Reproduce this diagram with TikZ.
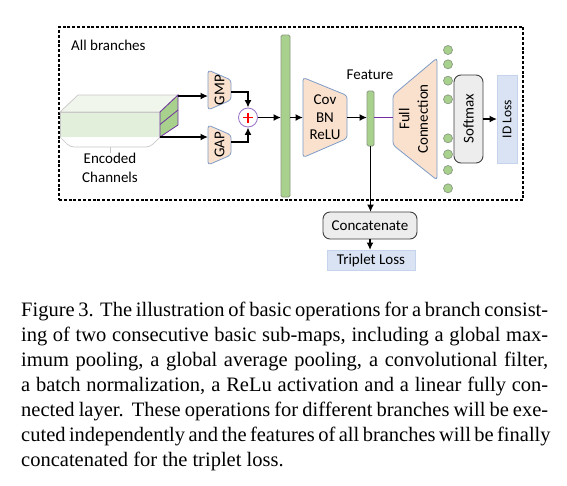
\documentclass[tikz,border=0pt]{standalone}
\usepackage{graphicx}
\usepackage{fontspec}
\setmainfont{Liberation Serif}
\newfontfamily\diagfont{Carlito}
\newfontfamily\capserif{Liberation Serif}
\usetikzlibrary{arrows.meta,calc,backgrounds}
\definecolor{orfill}{HTML}{F9E1CE}
\definecolor{trapline}{HTML}{7F9CC8}
\definecolor{gfill}{HTML}{A9D18E}
\definecolor{gline}{HTML}{8A9A82}
\definecolor{purp}{HTML}{7030A0}
\definecolor{circ}{HTML}{9A70C8}
\definecolor{lgray}{HTML}{EDEDED}
\definecolor{dgray}{HTML}{404040}
\definecolor{lblue}{HTML}{DAE3F3}
\definecolor{lbline}{HTML}{C5D3EC}
\definecolor{topg}{HTML}{F0F6EB}
\definecolor{frontg}{HTML}{E2EFDA}
\definecolor{blkline}{HTML}{C8C8C8}
\newcommand\capline[1]{{\capserif\fontsize{20.5}{25}\selectfont\makebox[527pt][s]{#1}}}
\begin{document}
\begin{tikzpicture}[x=1pt,y=-1pt,
  dtext/.style={font=\diagfont\fontsize{15}{17.5}\selectfont},
  arr/.style={line width=1.8pt, -{Latex[length=7.5pt,width=7pt]}},
  txt/.style={dtext, inner sep=0pt},
  box/.style={dtext, inner sep=0pt, outer sep=0pt},
  trap/.style={fill=orfill, draw=trapline, line width=0.8pt, rounded corners=3pt},
  greenbar/.style={box, fill=gfill, draw=gline, line width=0.8pt, rounded corners=1.5pt},
  dot/.style={circle, fill=gfill, draw=gline, line width=0.7pt, minimum size=9pt, inner sep=0pt},
  roundbox/.style={box, draw=dgray, fill=lgray, line width=0.9pt, rounded corners=7pt},
  lossbox/.style={box, fill=lblue, draw=lbline, line width=0.6pt},
  captext/.style={anchor=base west, inner sep=0pt}
  ]
\useasboundingbox (0,0) rectangle (567,485);

% frame
\node[box, draw, line width=1.5pt, dash pattern=on 3pt off 1.8pt, minimum width=464pt, minimum height=173pt] (frame) at (291,113.5) {};
\node[txt, anchor=west] (allb) at (71,45) {All branches};

% encoded block
\coordinate (bA) at (60,112);
\coordinate (bB) at (78,95);
\coordinate (bC) at (178,95);
\coordinate (bD) at (160,112);
\coordinate (bE) at (160,137);
\coordinate (bF) at (178,125);
\coordinate (bG) at (60,137);
\filldraw[fill=topg, draw=blkline, line width=0.7pt] (bA) -- (bB) -- (bC) -- (bD) -- cycle;
\filldraw[fill=frontg, draw=blkline, line width=0.7pt] (bA) rectangle (bE);
\filldraw[fill=white, draw=blkline, line width=0.7pt, rounded corners=4pt] (bG) -- (70,147) -- (150,147) -- (bE);
\filldraw[fill=gfill, draw=purp, line width=0.8pt] (bD) -- (bC) -- (bF) -- (bE) -- cycle;
\draw[purp, line width=0.8pt] (160,124.5) -- (178,110);
\node[txt, align=center, font=\diagfont\fontsize{15}{19}\selectfont] (enc) at (110,168) {Encoded\\Channels};
\coordinate (btick) at (110,147);
\draw[blkline, line width=0.8pt] (btick) -- (btick |- enc.north);

% pooling
\node[box, minimum width=23pt, minimum height=40pt] (gmp) at (219.5,90) {\rotatebox{90}{GMP}};
\node[box, minimum width=23pt, minimum height=40pt] (gap) at (219.5,145) {\rotatebox{90}{GAP}};
\node[circle, draw=circ, fill=white, line width=0.8pt, minimum size=19pt, inner sep=0pt] (plus) at (248,117.5) {};
\draw[red, line width=1.2pt] ($(plus.center)+(-5,0)$) -- ($(plus.center)+(5,0)$)
  ($(plus.center)+(0,-5)$) -- ($(plus.center)+(0,5)$);

% bars and boxes
\node[greenbar, minimum width=9pt, minimum height=162pt] (bar1) at (285.5,116) {};
\node[box, minimum width=44pt, minimum height=80pt, align=center] (cov) at (325,117.5) {Cov\\BN\\ReLU};
\node[greenbar, minimum width=7pt, minimum height=55pt] (feat) at (370.5,118.5) {};
\node[txt] (featlbl) at (370,75) {Feature};
\node[box, minimum width=44pt, minimum height=122pt] (fc) at (415,119) {\rotatebox{90}{\def\arraystretch{1.05}\begin{tabular}{@{}c@{}}Full\\Connection\end{tabular}}};
\foreach \yy [count=\i] in {50,64.3,80.7,99.3,138.3,154.3,170,188.3}
  \node[dot] (d\i) at (448,\yy) {};
\node[roundbox, minimum width=29pt, minimum height=88pt] (soft) at (468.5,119) {\rotatebox{90}{Softmax}};
\node[lossbox, minimum width=20pt, minimum height=88pt, font=\diagfont\fontsize{13.5}{16}\selectfont] (id) at (507,119) {\rotatebox{90}{ID Loss}};
\node[roundbox, minimum width=94pt, minimum height=27pt] (cat) at (370,225.5) {Concatenate};
\node[lossbox, minimum width=88pt, minimum height=20pt] (trip) at (371,260) {Triplet Loss};

\begin{scope}[on background layer]
\fill[white] (0,0) rectangle (567,485);
\path[trap] (gmp.north west) -- ($(gmp.north east)+(0,10)$) -- ($(gmp.south east)+(0,-10)$) -- (gmp.south west) -- cycle;
\path[trap] (gap.north west) -- ($(gap.north east)+(0,10)$) -- ($(gap.south east)+(0,-10)$) -- (gap.south west) -- cycle;
\path[trap] (cov.north west) -- ($(cov.north east)+(0,18)$) -- ($(cov.south east)+(0,-19)$) -- (cov.south west) -- cycle;
\path[trap] ($(fc.north west)+(0,37)$) -- (fc.north east) -- (fc.south east) -- ($(fc.south west)+(0,-35)$) -- cycle;
\end{scope}

% connectors
\draw[arr] (bC) ++(0,1) coordinate (bCa) -- (bCa -| gmp.west);
\draw[arr] (bE) -- (bE -| gap.west);
\draw[arr] ($(gmp.east)+(0,2)$) -| (plus.north);
\draw[arr] ($(gap.east)+(0,-3)$) -| (plus.south);
\draw[arr] (plus.east) -- (plus.east -| bar1.west);
\draw[arr] (plus -| bar1.east) -- (plus -| cov.west);
\draw[arr] (plus -| cov.east) -- (plus -| feat.west);
\draw[purp, line width=0.7pt] (plus -| feat.east) -- (plus -| fc.west);
\draw[arr] (soft.east) -- (id.west);
\draw[arr] (feat.south) -- (feat.south |- cat.north);
\draw[arr] (cat.south) -- (cat.south |- trip.north);

% caption
\node[captext] (c1) at (21,316) {\capline{Figure 3. The illustration of basic operations for a branch consist-}};
\node[captext] (c2) at (21,341) {\capline{ing of two consecutive basic sub-maps, including a global max-}};
\node[captext] (c3) at (21,366) {\capline{imum pooling, a global average pooling, a convolutional filter,}};
\node[captext] (c4) at (21,391) {\capline{a batch normalization, a ReLu activation and a linear fully con-}};
\node[captext] (c5) at (21,416) {\capline{nected layer.\ \ These operations for different branches will be exe-}};
\node[captext] (c6) at (21,441) {\capline{cuted independently and the features of all branches will be finally}};
\node[captext] (c7) at (21,466) {{\capserif\fontsize{20.5}{25}\selectfont concatenated for the triplet loss.}};
\end{tikzpicture}
\end{document}
